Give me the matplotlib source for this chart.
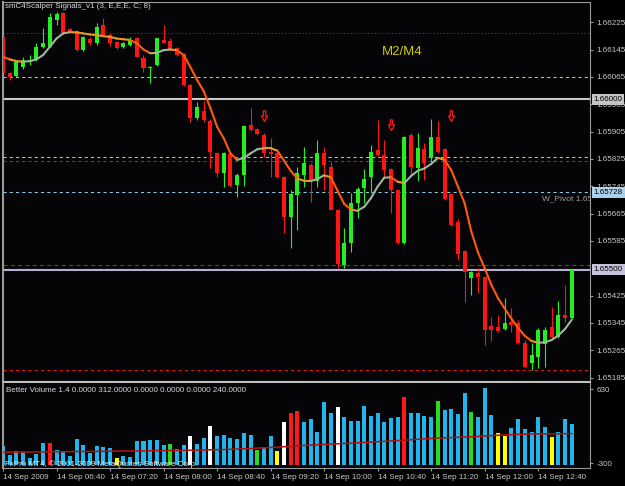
import matplotlib.pyplot as plt
import numpy as np
from matplotlib.collections import LineCollection
from matplotlib.path import Path

plt.rcParams['font.family'] = ['Liberation Sans', 'DejaVu Sans']

# GBPUSD-like M5 bars, 14 Sep 2009 from 06:00
opens = [1.66182, 1.66077, 1.66067, 1.66095, 1.66109, 1.66115, 1.66153, 1.66153, 1.66232, 1.66253,
         1.66204, 1.66200, 1.66143, 1.66175, 1.66163, 1.66217, 1.66187, 1.66168, 1.66153, 1.66158,
         1.66178, 1.66120, 1.66090, 1.66100, 1.66173, 1.66171, 1.66148, 1.66132, 1.66041, 1.65944,
         1.65965, 1.65937, 1.65842, 1.65784, 1.65839, 1.65749, 1.65778, 1.65925, 1.65913, 1.65895,
         1.65845, 1.65843, 1.65772, 1.65656, 1.65719, 1.65778, 1.65807, 1.65759, 1.65842, 1.65802,
         1.65674, 1.65515, 1.65578, 1.65696, 1.65739, 1.65772, 1.65851, 1.65836, 1.65795, 1.65734,
         1.65580, 1.65895, 1.65799, 1.65853, 1.65827, 1.65890, 1.65853, 1.65722, 1.65639, 1.65556,
         1.65476, 1.65492, 1.65480, 1.65336, 1.65334, 1.65326, 1.65349, 1.65345, 1.65286, 1.65227,
         1.65246, 1.65284, 1.65333, 1.65304, 1.65368, 1.65359]
highs = [1.66185, 1.66078, 1.66109, 1.66124, 1.66129, 1.66163, 1.66208, 1.66251, 1.66256, 1.66254,
         1.66207, 1.66202, 1.66184, 1.66181, 1.66222, 1.66237, 1.66192, 1.66170, 1.66168, 1.66181,
         1.66181, 1.66129, 1.66097, 1.66180, 1.66217, 1.66178, 1.66151, 1.66135, 1.66044, 1.65992,
         1.65993, 1.65941, 1.65845, 1.65845, 1.65842, 1.65784, 1.65925, 1.65974, 1.65916, 1.65901,
         1.65887, 1.65847, 1.65775, 1.65734, 1.65802, 1.65861, 1.65813, 1.65881, 1.65861, 1.65817,
         1.65677, 1.65623, 1.65726, 1.65744, 1.65796, 1.65866, 1.65939, 1.65881, 1.65797, 1.65736,
         1.65893, 1.65902, 1.65900, 1.65871, 1.65942, 1.65935, 1.65856, 1.65725, 1.65650, 1.65559,
         1.65498, 1.65506, 1.65483, 1.65363, 1.65368, 1.65418, 1.65389, 1.65354, 1.65296, 1.65286,
         1.65331, 1.65334, 1.65392, 1.65408, 1.65457, 1.65502]
lows = [1.66073, 1.66056, 1.66064, 1.66088, 1.66100, 1.66110, 1.66149, 1.66151, 1.66217, 1.66190,
        1.66194, 1.66140, 1.66141, 1.66158, 1.66158, 1.66186, 1.66155, 1.66146, 1.66148, 1.66155,
        1.66122, 1.66080, 1.66046, 1.66098, 1.66163, 1.66143, 1.66126, 1.66038, 1.65933, 1.65939,
        1.65933, 1.65798, 1.65773, 1.65744, 1.65743, 1.65713, 1.65747, 1.65906, 1.65895, 1.65831,
        1.65773, 1.65769, 1.65608, 1.65564, 1.65617, 1.65744, 1.65700, 1.65744, 1.65734, 1.65674,
        1.65506, 1.65506, 1.65553, 1.65653, 1.65697, 1.65726, 1.65833, 1.65770, 1.65667, 1.65576,
        1.65577, 1.65778, 1.65759, 1.65764, 1.65817, 1.65842, 1.65704, 1.65629, 1.65529, 1.65407,
        1.65426, 1.65432, 1.65281, 1.65291, 1.65319, 1.65324, 1.65319, 1.65284, 1.65214, 1.65207,
        1.65213, 1.65217, 1.65301, 1.65301, 1.65349, 1.65356]
closes = [1.66076, 1.66064, 1.66107, 1.66115, 1.66115, 1.66153, 1.66163, 1.66240, 1.66249, 1.66192,
          1.66197, 1.66143, 1.66182, 1.66163, 1.66210, 1.66187, 1.66165, 1.66148, 1.66163, 1.66173,
          1.66123, 1.66090, 1.66095, 1.66178, 1.66165, 1.66145, 1.66129, 1.66041, 1.65944, 1.65978,
          1.65939, 1.65846, 1.65784, 1.65842, 1.65746, 1.65778, 1.65920, 1.65908, 1.65898, 1.65842,
          1.65839, 1.65772, 1.65656, 1.65722, 1.65784, 1.65814, 1.65759, 1.65842, 1.65807, 1.65676,
          1.65518, 1.65580, 1.65696, 1.65736, 1.65766, 1.65846, 1.65836, 1.65792, 1.65734, 1.65578,
          1.65890, 1.65802, 1.65856, 1.65812, 1.65890, 1.65846, 1.65707, 1.65632, 1.65548, 1.65495,
          1.65495, 1.65480, 1.65324, 1.65324, 1.65322, 1.65346, 1.65339, 1.65286, 1.65217, 1.65251,
          1.65325, 1.65323, 1.65304, 1.65368, 1.65359, 1.65500]

# smoothed average drawn over the candles
ma_line = [1.66124, 1.66116, 1.66111, 1.66109, 1.66111, 1.66116, 1.66129, 1.66153, 1.66177, 1.66192,
           1.66196, 1.66195, 1.66192, 1.66189, 1.66187, 1.66184, 1.66182, 1.66177, 1.66175, 1.66173,
           1.66163, 1.66145, 1.66134, 1.66135, 1.66143, 1.66145, 1.66143, 1.66129, 1.66094, 1.66056,
           1.66023, 1.65974, 1.65919, 1.65885, 1.65841, 1.65822, 1.65828, 1.65841, 1.65853, 1.65856,
           1.65856, 1.65849, 1.65820, 1.65790, 1.65767, 1.65761, 1.65760, 1.65766, 1.65777, 1.65771,
           1.65732, 1.65693, 1.65677, 1.65673, 1.65685, 1.65710, 1.65744, 1.65770, 1.65771, 1.65758,
           1.65754, 1.65775, 1.65790, 1.65797, 1.65810, 1.65828, 1.65822, 1.65792, 1.65744, 1.65695,
           1.65612, 1.65551, 1.65505, 1.65456, 1.65417, 1.65387, 1.65357, 1.65330, 1.65307, 1.65292,
           1.65287, 1.65288, 1.65295, 1.65308, 1.65327, 1.65354]

volume = [145, 77, 107, 97, 51, 84, 166, 166, 115, 102,
          71, 197, 153, 94, 145, 136, 128, 51, 71, 59,
          186, 184, 192, 192, 153, 161, 123, 153, 225, 161,
          209, 301, 225, 230, 204, 197, 243, 230, 115, 140,
          225, 107, 332, 396, 414, 332, 352, 250, 480, 396,
          447, 370, 340, 340, 454, 378, 396, 332, 363, 370,
          523, 396, 396, 378, 370, 490, 424, 431, 388, 549,
          404, 365, 592, 383, 243, 225, 281, 352, 273, 255,
          370, 293, 212, 250, 352, 312]
vol_kind = ("bbbbbbbrbbbbbbbbbybbbbbbbgbbwbb"
            "wbbbbbbgbbywrrbbbbbwbbbbbbbbbr"
            "bbbbgbbbbgbbbyybbbbbbybbb")
vol_ma = [97, 98, 98, 99, 99, 100, 100, 101, 101, 102,
          102, 103, 103, 104, 104, 105, 106, 106, 107, 107,
          108, 108, 109, 110, 110, 111, 111, 112, 113, 113,
          114, 116, 117, 118, 120, 122, 124, 126, 129, 131,
          134, 137, 140, 143, 146, 149, 152, 155, 157, 160,
          162, 165, 167, 170, 172, 175, 178, 181, 184, 187,
          190, 193, 197, 200, 203, 206, 208, 210, 212, 214,
          216, 219, 222, 225, 228, 231, 232, 234, 235, 237,
          238, 238, 239, 239, 240, 240]

time_ticks = [0, 8, 16, 24, 32, 40, 48, 56, 64, 72, 80]
time_labels = ['14 Sep 2009', '14 Sep 06:40', '14 Sep 07:20', '14 Sep 08:00', '14 Sep 08:40',
               '14 Sep 09:20', '14 Sep 10:00', '14 Sep 10:40', '14 Sep 11:20', '14 Sep 12:00',
               '14 Sep 12:40']
# 1.65505 sits fully under the bid box on the original, so it is left out
price_ticks = [1.66225, 1.66145, 1.66065, 1.65985, 1.65905, 1.65825, 1.65745,
               1.65665, 1.65585, 1.65425, 1.65345, 1.65265, 1.65185]

levels = [1.66192, 1.66064, 1.66004, 1.65830, 1.65818, 1.65727, 1.65514, 1.65207]
level_colors = ['#a01414', '#d8d800', '#1f6e1f', '#d8d800', '#c81c1c', '#8ccbe4', '#1f6e1f', '#e81010']
level_dash = [(1.3, 2.0), (3, 3), (4, 3), (3, 3), (3, 3), (3, 3), (4, 3), (3, 3)]

signal_bars = [39, 58, 67]
signal_prices = [1.65950, 1.65923, 1.65949]

BG = '#050507'
VOL_COLORS = {'b': '#1eb6ec', 'r': '#ff1a1a', 'g': '#22dd22', 'y': '#ffff00', 'w': '#ffffff'}

fig = plt.figure(figsize=(6.25, 4.86), dpi=100, facecolor='#000000')
ax = fig.add_axes([0.00432, 0.21399, 0.93968, 0.78189], facecolor=BG)
ax2 = fig.add_axes([0.00432, 0.03765, 0.93968, 0.17428], facecolor=BG)

x = np.arange(len(opens))
o = np.array(opens); c = np.array(closes)
up = c >= o
cols = np.where(up, '#22ee22', '#ff1414')

# level lines
for lv, col, ds in zip(levels, level_colors, level_dash):
    ax.axhline(lv, color=col, lw=0.75, linestyle=(0, ds), zorder=1)
ax.axhline(1.66000, color='#c8c8c8', lw=1.5, zorder=1)
ax.axhline(1.65500, color='#b6b0d2', lw=1.5, zorder=1)

# candles
ax.vlines(x, lows, highs, colors=cols, lw=0.8, zorder=2)
body_h = np.maximum(np.abs(c - o), 0.00003)
ax.bar(x, body_h, bottom=np.minimum(o, c), width=0.6, color=cols, zorder=3)

# colour-changing average
ma = np.array(ma_line)
segs = [[(i, ma[i]), (i + 1, ma[i + 1])] for i in range(len(ma) - 1)]
seg_cols = []
for i in range(len(ma) - 1):
    d = ma[i + 1] - ma[i]
    if d > 0:
        seg_cols.append('#9cb89c')
    elif d < -0.00008:
        seg_cols.append('#ff5a0a')
    else:
        seg_cols.append('#e89a20')
ax.add_collection(LineCollection(segs, colors=seg_cols, linewidths=1.5, zorder=4, capstyle='round'))

# signal arrows
arrow = Path([(-0.22, 1), (0.22, 1), (0.22, 0.1), (0.55, 0.1), (0, -0.9), (-0.55, 0.1),
              (-0.22, 0.1), (-0.22, 1)],
             [Path.MOVETO] + [Path.LINETO] * 6 + [Path.CLOSEPOLY])
ax.plot(signal_bars, signal_prices, linestyle='none', marker=arrow, markersize=8,
        markerfacecolor='none', markeredgecolor='#ff1a1a', markeredgewidth=0.9, zorder=5)

ax.set_xlim(-0.045, 87.74)
ax.set_ylim(1.65172, 1.66284)
ax.set_xticks([])
ax.yaxis.tick_right()
ax.set_yticks(price_ticks)
ax.set_yticklabels([f'{p:.5f}' for p in price_ticks])
ax.tick_params(axis='y', colors='#9a9a9a', labelcolor='#c8c8c8', labelsize=5.8, length=2.5, pad=2)

yt = ax.get_yaxis_transform()
box_font = dict(fontsize=5.8, ha='left', va='center', transform=yt, clip_on=False, zorder=10)
ax.text(1.006, 1.66000, '1.66000', color='#000000',
        bbox=dict(boxstyle='square,pad=0.25', fc='#c4c4c4', ec='none'), **box_font)
ax.text(1.006, 1.65727, '1.65728', color='#000000',
        bbox=dict(boxstyle='square,pad=0.25', fc='#a9d2ea', ec='none'), **box_font)
ax.text(1.006, 1.65500, '1.65500', color='#000000',
        bbox=dict(boxstyle='square,pad=0.25', fc='#c6c2dc', ec='none'), **box_font)
ax.text(80.5, 1.65709, 'W_Pivot 1.65728', color='#a0a0a0', fontsize=6, va='center', clip_on=True)

for s in ax.spines.values():
    s.set_color('#9a9a9a')
ax.spines['bottom'].set_color('#c0c0c0')
ax.spines['bottom'].set_linewidth(1.5)
ax.spines['left'].set_linewidth(1.5)

# volume pane
ax2.bar(x, volume, width=0.6, color=[VOL_COLORS[k] for k in vol_kind], zorder=2)
ax2.plot(x, vol_ma, color='#b01212', lw=1.1, zorder=3)
ax2.set_xlim(-0.045, 87.74)
ax2.set_ylim(-21, 628)
ax2.yaxis.tick_right()
ax2.set_yticks([582, 13])
ax2.set_yticklabels(['630', '-300'])
ax2.set_xticks(time_ticks)
ax2.set_xticklabels(time_labels)
for lab in ax2.get_xticklabels():
    lab.set_ha('left')
ax2.tick_params(colors='#9a9a9a', labelcolor='#c8c8c8', labelsize=5.8, length=2.5, pad=2)
for s in ax2.spines.values():
    s.set_color('#9a9a9a')
ax2.spines['top'].set_visible(False)
ax2.spines['left'].set_linewidth(1.5)

# captions
fig.text(5 / 625, 1 - 7 / 486, 'smC4Scalper Signals_v1 (3, E,E,E, C; 8)', color='#d8d8d8',
         fontsize=5.8, va='center')
fig.text(382 / 625, 1 - 52 / 486, 'M2/M4', color='#cccc00', fontsize=9.5, va='center')
fig.text(6 / 625, 1 - 391 / 486,
         'Better Volume 1.4 0.0000 312.0000 0.0000 0.0000 0.0000 240.0000',
         color='#d8d8d8', fontsize=5.8, va='center')
fig.text(5 / 625, 1 - 464.5 / 486, 'FxPro MT4, \u00a9 2001-2009 MetaQuotes Software Corp.',
         color='#e8e8e8', fontsize=5.8, va='center')

fig.savefig('out.png', dpi=100, facecolor=fig.get_facecolor())
